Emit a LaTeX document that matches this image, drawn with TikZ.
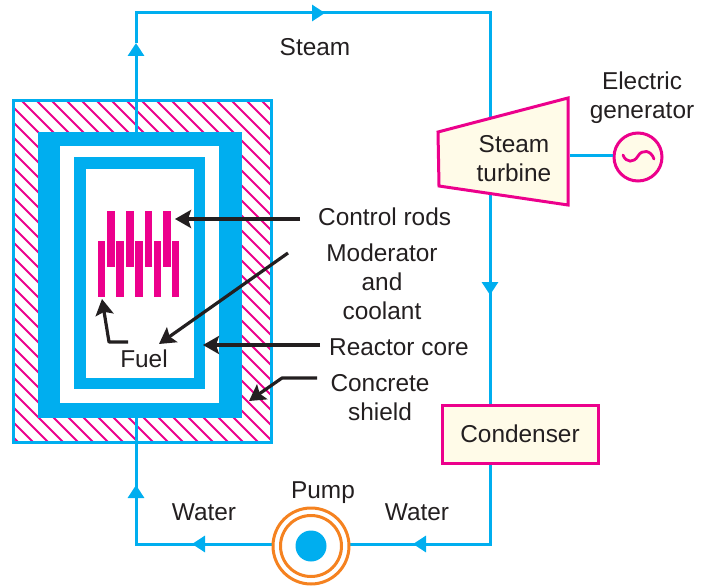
\documentclass[tikz,border=0pt]{standalone}
\usepackage{fontspec}
\setmainfont{Liberation Sans}
\usetikzlibrary{arrows.meta}
\definecolor{Pipe}{HTML}{00AEEF}
\definecolor{Rod}{HTML}{EC008C}
\definecolor{Cream}{HTML}{FFFBE8}
\definecolor{Coil}{HTML}{F58220}
\definecolor{Ink}{HTML}{231F20}
\tikzset{
  pipe/.style={Pipe,line width=3pt,line join=miter},
  pipeflow/.style={pipe,-{Triangle[length=13pt,width=16pt]}},
  pointer/.style={Ink,line width=3.2pt,line join=round,-{Stealth[length=16pt,width=18pt,inset=3pt]}},
  label/.style={text=Ink,font=\fontsize{24.4}{29}\selectfont,align=center,inner sep=0pt},
  rod/.style={fill=Rod,draw=none},
  wall/.style={fill=Pipe,draw=none},
  hollow/.style={fill=white,draw=none},
}
\begin{document}
\begin{tikzpicture}[x=1pt,y=-1pt]
\useasboundingbox (0,0) rectangle (712,586);
% loop corners and arrow positions
\coordinate (topLeft) at (136,13);
\coordinate (topRight) at (490,13);
\coordinate (botRight) at (490,544);
\coordinate (botLeft) at (136,544);
\coordinate (shieldTop) at (136,132);
\coordinate (shieldBot) at (136,418);
\coordinate (flowUpper) at (136,43);
\coordinate (flowTop) at (325,13);
\coordinate (flowRight) at (490,295);
\coordinate (flowPumpIn) at (413,544);
\coordinate (flowPumpOut) at (192,544);
\coordinate (flowLower) at (136,485);
% concrete shield
\fill[white] (13,100) rectangle (271,442);
\begin{scope}
\clip (13,100) rectangle (271,442);
\foreach \k in {-24,...,22} {\draw[Rod,line width=2pt] (\k*15+6,100) -- ++(342,342);}
\end{scope}
\draw[Pipe,line width=3pt] (13,100) rectangle (271,442);
% pipe loop
\draw[pipeflow] (shieldTop) -- (flowUpper);
\draw[pipe] (flowUpper) -- (topLeft) -- (flowTop);
\draw[pipeflow] (topLeft) -- (flowTop);
\draw[pipe] (flowTop) -- (topRight) -- (flowRight);
\draw[pipeflow] (topRight) -- (flowRight);
\draw[pipe] (flowRight) -- (botRight) -- (flowPumpIn);
\draw[pipeflow] (botRight) -- (flowPumpIn);
\draw[pipe] (flowPumpIn) -- (flowPumpOut);
\draw[pipeflow] (311,544) -- (flowPumpOut);
\draw[pipe] (flowPumpOut) -- (botLeft) -- (flowLower);
\draw[pipeflow] (botLeft) -- (flowLower);
\draw[pipe] (flowLower) -- (shieldBot);
% reactor walls
\fill[wall] (38,132) rectangle (242,418);
\fill[hollow] (60,146) rectangle (219,403);
\fill[wall] (74,157) rectangle (205,389);
\fill[hollow] (86,169) rectangle (194,378);
% fuel and control rods
\foreach \x in {107,126,144.5,163} {\fill[rod] (\x,211) rectangle ++(7.5,56);}
\foreach \x in {97.5,116,135,153.5,171.5} {\fill[rod] (\x,241) rectangle ++(7.5,56);}
% turbine and generator
\draw[Rod,line width=3pt,fill=Cream,line join=miter] (438,132) -- (568,98) -- (568,205) -- (439,186) -- cycle;
\node[label] (turbine) at (514,159) {Steam\\turbine};
\node[circle,draw=Rod,line width=3pt,fill=Cream,minimum size=48pt,inner sep=0pt] (generator) at (638,157) {};
\coordinate (turbineOut) at (570,155);
\draw[pipe] (turbineOut) -- (generator.west |- turbineOut);
\draw[Rod,line width=2.8pt,line cap=round] (623,155) .. controls (626,163) and (634,163) .. (638,156) .. controls (642,149) and (651,150) .. (654,159);
\node[label] (generatorText) at (642,98) {Electric\\generator};
% condenser
\node[draw=Rod,line width=3pt,fill=Cream,minimum width=156pt,minimum height=58pt,inner sep=0pt,label] (condenser) at (520,434) {Condenser};
% pump
\node[circle,draw=Coil,line width=3pt,fill=white,minimum size=76pt,inner sep=0pt] (pump) at (311,546) {};
\node[circle,draw=Coil,line width=3pt,minimum size=61pt,inner sep=0pt] (pumpInner) at (311,546) {};
\node[circle,fill=Pipe,minimum size=31pt,inner sep=0pt] (pumpCore) at (311,546) {};
% labels
\node[label] (steamText) at (315,47) {Steam};
\node[label,anchor=west] (rodsText) at (318,217) {Control rods};
\node[label] (moderatorText) at (382,282) {Moderator\\and\\coolant};
\node[label] (coreText) at (399,347) {Reactor core};
\node[label] (shieldText) at (380,398) {Concrete\\shield};
\node[label] (fuelText) at (144,359) {Fuel};
\node[label] (pumpText) at (323,493) {Pump};
\node[label] (waterLeft) at (204,512) {Water};
\node[label] (waterRight) at (417,512) {Water};
% pointers
\coordinate (rodsTail) at (300,219);
\coordinate (rodsTip) at (175,219);
\coordinate (modTail) at (288,253);
\coordinate (modTip) at (159,344);
\coordinate (coreTail) at (320,345);
\coordinate (coreTip) at (203,345);
\coordinate (shieldTail) at (317,378);
\coordinate (shieldBend) at (282,378);
\coordinate (shieldTip) at (249,401);
\coordinate (fuelTail) at (128,342);
\coordinate (fuelBend) at (109,342);
\coordinate (fuelTip) at (102,299);
\draw[pointer] (rodsTail) -- (rodsTip);
\draw[pointer] (modTail) -- (modTip);
\draw[pointer] (coreTail) -- (coreTip);
\draw[pointer] (shieldTail) -- (shieldBend) -- (shieldTip);
\draw[pointer] (fuelTail) -- (fuelBend) -- (fuelTip);
\end{tikzpicture}
\end{document}
